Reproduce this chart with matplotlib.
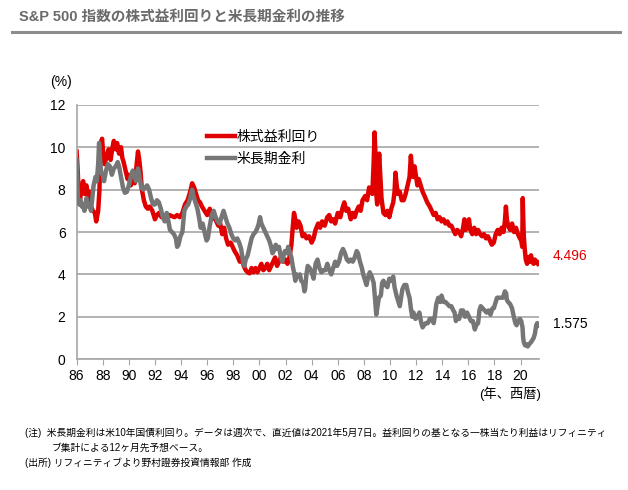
import matplotlib
matplotlib.use("Agg")
from matplotlib import pyplot as plt

plt.rcParams['font.family'] = ['Liberation Sans', 'Noto Sans CJK JP', 'DejaVu Sans']

# 株式益利回り (S&P 500, 週次の読み取り値)
red_years = [1986.0, 1986.05, 1986.15, 1986.25, 1986.35, 1986.5, 1986.6, 1986.75, 1986.9, 1987.0,
             1987.1, 1987.25, 1987.4, 1987.5, 1987.65, 1987.75, 1987.8, 1987.85, 1987.95, 1988.05,
             1988.15, 1988.3, 1988.45, 1988.6, 1988.75, 1988.85, 1989.0, 1989.1, 1989.25, 1989.4,
             1989.5, 1989.6, 1989.75, 1989.9, 1990.0, 1990.15, 1990.3, 1990.45, 1990.6, 1990.7,
             1990.8, 1990.9, 1991.0, 1991.15, 1991.3, 1991.45, 1991.6, 1991.8, 1992.0, 1992.15,
             1992.3, 1992.5, 1992.7, 1992.9, 1993.1, 1993.3, 1993.5, 1993.7, 1993.9, 1994.1,
             1994.3, 1994.5, 1994.7, 1994.85, 1995.0, 1995.15, 1995.3, 1995.45, 1995.6, 1995.8,
             1996.0, 1996.2, 1996.35, 1996.5, 1996.7, 1996.85, 1997.0, 1997.15, 1997.3, 1997.45,
             1997.6, 1997.8, 1997.95, 1998.1, 1998.3, 1998.5, 1998.65, 1998.8, 1998.95, 1999.1,
             1999.25, 1999.4, 1999.55, 1999.7, 1999.85, 2000.0, 2000.15, 2000.3, 2000.45, 2000.6,
             2000.75, 2000.9, 2001.05, 2001.2, 2001.35, 2001.5, 2001.7, 2001.85, 2002.0, 2002.15,
             2002.3, 2002.45, 2002.55, 2002.65, 2002.75, 2002.85, 2003.0, 2003.15, 2003.3, 2003.45,
             2003.6, 2003.8, 2004.0, 2004.15, 2004.3, 2004.5, 2004.65, 2004.8, 2005.0, 2005.2,
             2005.35, 2005.5, 2005.65, 2005.8, 2006.0, 2006.2, 2006.35, 2006.5, 2006.65, 2006.8,
             2007.0, 2007.15, 2007.3, 2007.45, 2007.6, 2007.75, 2007.9, 2008.1, 2008.25, 2008.4,
             2008.55, 2008.65, 2008.75, 2008.82, 2008.88, 2008.95, 2009.02, 2009.1, 2009.17, 2009.25,
             2009.35, 2009.5, 2009.65, 2009.8, 2009.95, 2010.1, 2010.25, 2010.35, 2010.42, 2010.5,
             2010.6, 2010.75, 2010.9, 2011.05, 2011.2, 2011.35, 2011.5, 2011.6, 2011.68, 2011.78,
             2011.88, 2012.0, 2012.1, 2012.2, 2012.35, 2012.5, 2012.65, 2012.85, 2013.05, 2013.2,
             2013.35, 2013.5, 2013.65, 2013.8, 2013.95, 2014.1, 2014.25, 2014.4, 2014.55, 2014.7,
             2014.85, 2015.0, 2015.15, 2015.3, 2015.45, 2015.6, 2015.7, 2015.8, 2015.95, 2016.05,
             2016.15, 2016.3, 2016.45, 2016.6, 2016.75, 2016.9, 2017.05, 2017.2, 2017.35, 2017.5,
             2017.65, 2017.8, 2017.95, 2018.1, 2018.25, 2018.4, 2018.55, 2018.7, 2018.8, 2018.88,
             2018.95, 2019.05, 2019.2, 2019.35, 2019.5, 2019.65, 2019.8, 2019.95, 2020.05, 2020.13,
             2020.17, 2020.2, 2020.25, 2020.32, 2020.4, 2020.5, 2020.6, 2020.7, 2020.8, 2020.9,
             2021.0, 2021.1, 2021.2, 2021.28, 2021.35]
red_vals = [9.8, 9.3, 8.0, 7.4, 8.0, 8.4, 7.8, 8.2, 7.6, 7.9,
            7.2, 7.0, 6.9, 6.5, 7.0, 8.0, 9.3, 10.2, 10.4, 9.6,
            9.2, 9.6, 9.9, 9.4, 10.0, 10.3, 9.9, 10.2, 9.7, 10.0,
            9.5, 9.3, 8.9, 8.5, 8.7, 8.2, 8.6, 8.3, 9.2, 9.8,
            9.4, 8.8, 8.0, 7.5, 7.2, 7.1, 7.2, 7.0, 6.6, 6.8,
            6.9, 6.7, 6.8, 6.6, 6.8, 6.75, 6.7, 6.8, 6.7, 6.9,
            7.3, 7.5, 7.9, 8.3, 8.1, 7.8, 7.5, 7.4, 7.2, 7.0,
            6.8, 7.1, 6.6, 6.9, 6.5, 6.3, 6.4, 5.9, 6.2, 5.7,
            5.4, 5.5, 5.3, 5.1, 4.9, 4.6, 4.8, 4.4, 4.2, 4.1,
            4.05, 4.3, 4.1, 4.3, 4.1, 4.3, 4.5, 4.2, 4.3, 4.5,
            4.2, 4.4, 4.6, 4.8, 4.4, 4.6, 4.9, 4.6, 4.7, 4.5,
            4.8, 5.4, 6.2, 6.9, 6.6, 6.2, 6.5, 6.3, 5.8, 5.9,
            5.7, 5.8, 5.5, 5.7, 6.1, 6.4, 6.2, 6.5, 6.3, 6.7,
            6.8, 6.5, 6.6, 6.4, 6.9, 6.7, 7.1, 7.4, 7.0, 7.1,
            6.6, 6.9, 6.7, 7.0, 7.2, 7.0, 7.5, 7.7, 7.5, 8.1,
            8.0, 7.8, 9.3, 10.7, 9.8, 7.8, 7.3, 8.5, 9.7, 8.8,
            7.6, 6.9, 6.8, 7.0, 6.7, 7.1, 7.4, 7.9, 8.8, 8.3,
            7.8, 7.9, 7.5, 7.5, 7.8, 8.2, 8.6, 9.6, 9.0, 8.6,
            9.1, 8.6, 8.2, 8.5, 8.2, 7.9, 7.7, 7.4, 7.2, 7.0,
            6.8, 6.9, 6.6, 6.7, 6.5, 6.6, 6.4, 6.5, 6.3, 6.3,
            6.1, 5.9, 6.1, 6.0, 5.8, 6.2, 6.6, 6.1, 6.3, 6.6,
            6.1, 5.9, 6.2, 5.9, 6.1, 5.9, 5.8, 5.9, 5.7, 5.8,
            5.6, 5.4, 5.5, 5.9, 6.1, 5.9, 6.2, 6.0, 6.5, 7.2,
            6.6, 6.3, 6.1, 6.4, 6.0, 6.2, 5.9, 5.7, 5.6, 5.3,
            7.6, 6.8, 5.8, 5.2, 4.7, 4.5, 4.8, 4.6, 4.9, 4.6,
            4.5, 4.7, 4.55, 4.6, 4.496]

# 米長期金利 (米10年国債利回り)
gray_years = [1986.0, 1986.05, 1986.1, 1986.2, 1986.3, 1986.4, 1986.5, 1986.6, 1986.75, 1986.85,
              1987.0, 1987.1, 1987.2, 1987.3, 1987.45, 1987.55, 1987.65, 1987.72, 1987.8, 1987.88,
              1988.0, 1988.1, 1988.25, 1988.4, 1988.55, 1988.7, 1988.85, 1989.0, 1989.15, 1989.25,
              1989.4, 1989.55, 1989.7, 1989.85, 1990.0, 1990.15, 1990.3, 1990.45, 1990.55, 1990.7,
              1990.8, 1990.95, 1991.1, 1991.25, 1991.4, 1991.55, 1991.7, 1991.85, 1992.0, 1992.15,
              1992.3, 1992.45, 1992.6, 1992.75, 1992.9, 1993.0, 1993.15, 1993.3, 1993.45, 1993.6,
              1993.7, 1993.8, 1993.95, 1994.1, 1994.25, 1994.4, 1994.55, 1994.7, 1994.85, 1994.95,
              1995.1, 1995.25, 1995.4, 1995.5, 1995.65, 1995.8, 1995.95, 1996.05, 1996.2, 1996.35,
              1996.5, 1996.65, 1996.8, 1996.95, 1997.1, 1997.25, 1997.4, 1997.55, 1997.7, 1997.85,
              1998.0, 1998.15, 1998.3, 1998.45, 1998.6, 1998.75, 1998.85, 1998.95, 1999.1, 1999.25,
              1999.4, 1999.55, 1999.7, 1999.85, 1999.95, 2000.05, 2000.15, 2000.3, 2000.45, 2000.6,
              2000.75, 2000.9, 2001.0, 2001.1, 2001.25, 2001.35, 2001.5, 2001.65, 2001.75, 2001.85,
              2001.95, 2002.1, 2002.2, 2002.3, 2002.45, 2002.55, 2002.65, 2002.75, 2002.85, 2002.95,
              2003.1, 2003.2, 2003.35, 2003.45, 2003.5, 2003.6, 2003.7, 2003.85, 2004.0, 2004.15,
              2004.3, 2004.45, 2004.6, 2004.75, 2004.9, 2005.05, 2005.2, 2005.35, 2005.5, 2005.65,
              2005.8, 2005.95, 2006.1, 2006.25, 2006.4, 2006.55, 2006.7, 2006.85, 2007.0, 2007.15,
              2007.3, 2007.45, 2007.55, 2007.7, 2007.85, 2007.95, 2008.1, 2008.2, 2008.3, 2008.45,
              2008.6, 2008.75, 2008.85, 2008.95, 2009.05, 2009.15, 2009.3, 2009.4, 2009.5, 2009.65,
              2009.8, 2009.95, 2010.1, 2010.25, 2010.35, 2010.5, 2010.65, 2010.75, 2010.85, 2010.95,
              2011.1, 2011.25, 2011.4, 2011.5, 2011.6, 2011.7, 2011.8, 2011.95, 2012.1, 2012.25,
              2012.4, 2012.5, 2012.6, 2012.75, 2012.9, 2013.05, 2013.2, 2013.35, 2013.45, 2013.55,
              2013.7, 2013.85, 2013.95, 2014.1, 2014.25, 2014.4, 2014.55, 2014.7, 2014.85, 2014.95,
              2015.05, 2015.15, 2015.3, 2015.45, 2015.6, 2015.75, 2015.9, 2016.05, 2016.2, 2016.35,
              2016.5, 2016.6, 2016.75, 2016.85, 2016.95, 2017.1, 2017.25, 2017.4, 2017.55, 2017.7,
              2017.85, 2017.95, 2018.1, 2018.2, 2018.35, 2018.5, 2018.65, 2018.8, 2018.9, 2018.95,
              2019.05, 2019.2, 2019.35, 2019.45, 2019.6, 2019.7, 2019.8, 2019.95, 2020.05, 2020.15,
              2020.2, 2020.25, 2020.35, 2020.45, 2020.55, 2020.65, 2020.8, 2020.9, 2021.0, 2021.1,
              2021.2, 2021.28, 2021.35]
gray_vals = [9.4, 8.6, 7.6, 7.3, 7.5, 7.2, 7.3, 7.0, 7.6, 7.2,
             7.3, 7.0, 7.6, 8.2, 8.6, 8.4, 9.2, 10.2, 9.4, 8.8,
             8.7, 8.4, 8.9, 9.2, 9.1, 8.7, 9.0, 9.1, 9.3, 9.1,
             8.6, 8.1, 7.85, 7.9, 8.2, 8.6, 8.9, 8.6, 8.4, 9.0,
             8.7, 8.1, 8.0, 8.1, 8.2, 8.0, 7.6, 7.3, 7.3, 7.5,
             7.4, 7.1, 6.7, 6.5, 6.9, 6.6, 6.1, 6.0, 5.9, 5.7,
             5.3, 5.4, 5.8, 6.0, 7.0, 7.2, 7.3, 7.6, 8.0, 7.7,
             7.4, 7.1, 6.6, 6.2, 6.4, 6.0, 5.6, 5.7, 6.3, 6.8,
             7.0, 6.7, 6.5, 6.4, 6.7, 7.0, 6.7, 6.4, 6.2, 5.9,
             5.7, 5.6, 5.7, 5.5, 5.2, 4.6, 4.4, 4.7, 4.9, 5.3,
             5.7, 5.9, 6.0, 6.2, 6.4, 6.7, 6.4, 6.2, 6.0, 5.8,
             5.6, 5.3, 5.0, 5.1, 5.4, 5.2, 5.3, 4.8, 4.6, 4.9,
             5.1, 5.0, 5.3, 5.1, 4.8, 4.4, 4.1, 3.7, 4.0, 3.9,
             4.0, 3.7, 3.6, 3.2, 3.3, 4.0, 4.4, 4.3, 4.1, 3.8,
             4.5, 4.7, 4.3, 4.1, 4.2, 4.2, 4.5, 4.2, 4.0, 4.3,
             4.6, 4.4, 4.6, 5.0, 5.2, 5.0, 4.7, 4.6, 4.7, 4.6,
             4.8, 5.1, 5.0, 4.6, 4.3, 4.0, 3.7, 3.5, 3.8, 4.1,
             3.9, 3.6, 2.9, 2.1, 2.5, 2.9, 3.0, 3.6, 3.7, 3.5,
             3.4, 3.8, 3.7, 3.9, 3.4, 3.0, 2.7, 2.5, 2.9, 3.3,
             3.5, 3.5, 3.1, 2.9, 2.4, 2.0, 2.2, 1.9, 2.0, 2.2,
             1.7, 1.5, 1.6, 1.7, 1.7, 1.9, 1.9, 1.7, 2.1, 2.6,
             2.9, 2.7, 3.0, 2.7, 2.7, 2.6, 2.5, 2.5, 2.3, 2.2,
             1.8, 2.0, 1.9, 2.3, 2.3, 2.0, 2.2, 2.0, 1.8, 1.8,
             1.4, 1.6, 1.7, 2.3, 2.5, 2.4, 2.3, 2.2, 2.3, 2.1,
             2.4, 2.4, 2.7, 2.9, 2.9, 2.9, 2.9, 3.2, 3.1, 2.8,
             2.7, 2.6, 2.4, 2.1, 1.7, 1.6, 1.8, 1.9, 1.8, 1.5,
             1.0, 0.8, 0.65, 0.7, 0.6, 0.7, 0.8, 0.9, 1.0, 1.2,
             1.6, 1.7, 1.575]

x_ticks = list(range(1986, 2021, 2))
x_ticklabels = ["%02d" % (y % 100) for y in x_ticks]
y_ticks = [0, 2, 4, 6, 8, 10, 12]

titulo = "S&P 500 指数の株式益利回りと米長期金利の推移"
nota1 = "(注)  米長期金利は米10年国債利回り。データは週次で、直近値は2021年5月7日。益利回りの基となる一株当たり利益はリフィニティ"
nota2 = "ブ集計による12ヶ月先予想ベース。"
nota3 = "(出所) リフィニティブより野村證券投資情報部 作成"

RED = "#e00000"
GRAY = "#767676"
GRID = "#a6a6a6"

fig = plt.figure(figsize=(6.28, 4.90), dpi=100)
ax = fig.add_axes([0.122, 0.267, 0.736, 0.519])

ax.plot(gray_years, gray_vals, color=GRAY, lw=3.2, label="米長期金利", zorder=3)
ax.plot(red_years, red_vals, color=RED, lw=3.2, label="株式益利回り", zorder=2)

ax.set_xlim(1986, 2021.4)
ax.set_ylim(0, 12)
ax.set_yticks(y_ticks)
ax.set_xticks(x_ticks)
ax.set_xticklabels(x_ticklabels)
ax.tick_params(axis='y', length=0, labelsize=10, pad=8)
ax.tick_params(axis='x', length=4, color=GRID, labelsize=10, pad=3)
ax.grid(axis='y', color=GRID, lw=1.2)
ax.set_axisbelow(True)
for s in ["top", "right"]:
    ax.spines[s].set_visible(False)
ax.spines["left"].set_color(GRID)
ax.spines["bottom"].set_color(GRID)
ax.spines["left"].set_linewidth(1.2)
ax.spines["bottom"].set_linewidth(1.2)

handles, labels = ax.get_legend_handles_labels()
ax.legend(handles[::-1], labels[::-1], loc="upper left", bbox_to_anchor=(0.255, 0.95),
          frameon=False, fontsize=10, handlelength=2.0, handletextpad=0.15, labelspacing=0.55)

# 直近値
ax.annotate("4.496", xy=(1, 4.85), xycoords=("axes fraction", "data"), xytext=(10, 0),
            textcoords="offset points", color=RED, fontsize=10, va="center")
ax.annotate("1.575", xy=(1, 1.65), xycoords=("axes fraction", "data"), xytext=(10, 0),
            textcoords="offset points", color="black", fontsize=10, va="center")

fig.text(0.08, 0.825, "(%)", fontsize=10)
fig.text(0.862, 0.197, "(年、西暦)", fontsize=9.5, ha="right", va="center")

fig.text(0.03, 0.958, titulo, fontsize=10.5, weight="bold", color="#6a6a6a")
fig.add_artist(plt.Line2D([0.019, 0.987], [0.935, 0.935], color="#8c8c8c", lw=2.2))

fig.text(0.04, 0.11, nota1, fontsize=7)
fig.text(0.083, 0.08, nota2, fontsize=7)
fig.text(0.04, 0.05, nota3, fontsize=7)

fig.savefig("out.png", dpi=100)
